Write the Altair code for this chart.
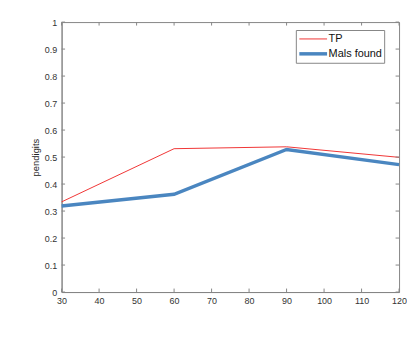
import altair as alt
import pandas as pd

x_vals = [30, 60, 90, 120]
tp_vals = [0.334, 0.531, 0.538, 0.499]
mals_vals = [0.319, 0.362, 0.528, 0.472]
series_names = ["TP", "Mals found"]
x_ticks = [30, 40, 50, 60, 70, 80, 90, 100, 110, 120]
y_ticks = [0, 0.1, 0.2, 0.3, 0.4, 0.5, 0.6, 0.7, 0.8, 0.9, 1]

rows = []
for xv, a, b in zip(x_vals, tp_vals, mals_vals):
    rows.append({"x": xv, "y": a, "s": "TP"})
    rows.append({"x": xv, "y": b, "s": "Mals found"})
df = pd.DataFrame(rows)

W, H = 340, 272
FONT = "Liberation Sans"
AX = "#868686"

xscale = alt.Scale(domain=[30, 120], nice=False, zero=False)
yscale = alt.Scale(domain=[0, 1], nice=False)

xaxis = alt.Axis(values=x_ticks, title=None, tickSize=0, labelPadding=5,
                 domainColor=AX, labelFontSize=9, labelColor="#333",
                 labelOverlap=False, labelBound=False, labelFlush=False,
                 grid=False, labelFont=FONT)
yaxis = alt.Axis(values=y_ticks, title="pendigits", tickSize=0, labelPadding=5,
                 domainColor=AX, labelFontSize=9, labelColor="#333",
                 labelOverlap=False, labelBound=False, labelFlush=False,
                 titleFontSize=9.5, titleFontWeight="normal", titleColor="#222",
                 titlePadding=4, grid=False, labelFont=FONT, titleFont=FONT,
                 format="~g")

lines = alt.Chart(df).mark_line().encode(
    x=alt.X("x:Q", scale=xscale, axis=xaxis),
    y=alt.Y("y:Q", scale=yscale, axis=yaxis),
    color=alt.Color("s:N", scale=alt.Scale(domain=series_names, range=["#f03535", "#4a86c0"]),
                    title=None,
                    legend=alt.Legend(orient="none", legendX=236, legendY=8,
                                      symbolType="M-2.9,0M-2.15,0H2.15", symbolSize=169,
                                      symbolOffset=7,
                                      labelFontSize=11, labelFont=FONT, labelColor="#111",
                                      labelExpr="datum.label + '\u00a0\u00a0'",
                                      strokeColor=AX, fillColor="white", padding=2,
                                      rowPadding=1.5, labelOffset=7)),
    strokeWidth=alt.StrokeWidth("s:N", scale=alt.Scale(domain=series_names, range=[1, 3.5]),
                                title=None, legend=None),
    detail="s:N",
)

xt = pd.DataFrame({"x": x_ticks})
yt = pd.DataFrame({"y": y_ticks})

xb = alt.Chart(xt).mark_rule(color=AX, strokeWidth=1).encode(
    x=alt.X("x:Q", scale=xscale, axis=xaxis), y=alt.value(H), y2=alt.value(H - 3.5))
xtop = alt.Chart(xt).mark_rule(color=AX, strokeWidth=1).encode(
    x=alt.X("x:Q", scale=xscale, axis=xaxis), y=alt.value(0), y2=alt.value(3.5))
yl = alt.Chart(yt).mark_rule(color=AX, strokeWidth=1).encode(
    y=alt.Y("y:Q", scale=yscale, axis=yaxis), x=alt.value(0), x2=alt.value(3.5))
yr = alt.Chart(yt).mark_rule(color=AX, strokeWidth=1).encode(
    y=alt.Y("y:Q", scale=yscale, axis=yaxis), x=alt.value(W), x2=alt.value(W - 3.5))

chart = alt.layer(lines, xb, xtop, yl, yr).properties(
    width=W, height=H,
    autosize=alt.AutoSizeParams(type="none"),
    padding={"left": 54, "top": 13, "right": 8, "bottom": 30},
    background="white",
).configure_view(stroke=AX, strokeWidth=1)

chart.save("out.html", embed_options={"renderer": "svg", "actions": False})
